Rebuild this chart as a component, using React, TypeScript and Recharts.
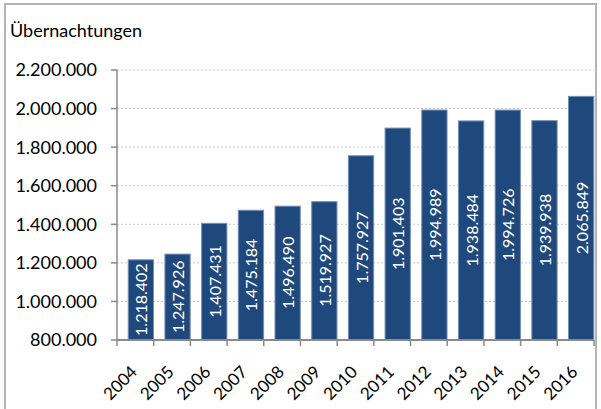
import React from "react";
import { BarChart, Bar, XAxis, YAxis, CartesianGrid, LabelList } from "recharts";

const years = ["2004", "2005", "2006", "2007", "2008", "2009", "2010", "2011", "2012", "2013", "2014", "2015", "2016"];
const nights = [1218402, 1247926, 1407431, 1475184, 1496490, 1519927, 1757927, 1901403, 1994989, 1938484, 1994726, 1939938, 2065849];
const yTicks = [800000, 1000000, 1200000, 1400000, 1600000, 1800000, 2000000, 2200000];
const title = "Übernachtungen";

const data = years.map((y, i) => ({ year: y, value: nights[i] }));

const fmt = (v: number) => String(Math.round(v)).replace(/\B(?=(\d{3})+(?!\d))/g, ".");

const FONT = "Lato, 'Open Sans', sans-serif";
const AXIS = "#8a8a8a";
const TS = 6;
const TM = 2;
const BAR_FRAC = 0.71; // visible bar share of category, right-aligned

const XTick = (props: any) => {
  const { x, y, payload, index, width, visibleTicksCount } = props;
  const band = width / (visibleTicksCount || years.length);
  const ay = y - TS - TM;
  const lx = x - band / 2;
  const rx = x + band / 2;
  const tx = x + 3;
  const ty = ay + 33;
  return (
    <g>
      <line x1={lx} y1={ay} x2={lx} y2={ay + TS} stroke={AXIS} strokeWidth={1.5} />
      {index === (visibleTicksCount || years.length) - 1 && (
        <line x1={rx} y1={ay} x2={rx} y2={ay + TS} stroke={AXIS} strokeWidth={1.5} />
      )}
      <text
        x={tx}
        y={ty}
        textAnchor="end"
        transform={`rotate(-45, ${tx}, ${ty})`}
        fontFamily={FONT}
        fontSize={17}
        fill="#000"
      >
        {payload.value}
      </text>
    </g>
  );
};

const BarShape = (props: any) => {
  const { x, y, width, height } = props;
  const w = width * BAR_FRAC;
  const bx = x + width - w;
  return <rect x={bx + 0.5} y={y + 0.5} width={w - 1} height={Math.max(0, height - 0.5)} fill="#1F497D" stroke="#7390b8" strokeWidth={1} />;
};

const BarLabel = (props: any) => {
  const { x, y, width, height, value } = props;
  const w = width * BAR_FRAC;
  const cx = x + width - w / 2;
  const cy = y + height / 2;
  return (
    <text
      x={cx}
      y={cy}
      textAnchor="middle"
      dominantBaseline="central"
      transform={`rotate(-90, ${cx}, ${cy})`}
      fill="#fff"
      fontFamily={FONT}
      fontSize={16}
    >
      {fmt(Number(value))}
    </text>
  );
};

export default function App() {
  return (
    <div style={{ position: "absolute", left: 0, top: 0, width: 601, height: 409, overflow: "hidden", background: "#fff" }}>
      <div
        style={{
          position: "absolute",
          left: 4,
          top: 3,
          width: 593,
          height: 430,
          border: "2px solid #b4b4b4",
          boxSizing: "border-box",
        }}
      />
      <svg width={601} height={409} style={{ position: "absolute", left: 0, top: 0 }}>
        <text x={10} y={37} fontFamily={FONT} fontSize={18} fill="#000">
          {title}
        </text>
      </svg>
      <div style={{ position: "absolute", left: 0, top: 0 }}>
        <BarChart
          width={601}
          height={409}
          data={data}
          margin={{ top: 70, right: 7, left: 0, bottom: 0 }}
          barGap={0}
          barCategoryGap={0}
        >
          <CartesianGrid vertical={false} stroke="#c8c8c8" strokeDasharray="2 2" />
          <XAxis
            dataKey="year"
            height={69}
            interval={0}
            tickLine={false}
            tickSize={TS}
            tickMargin={TM}
            axisLine={{ stroke: AXIS, strokeWidth: 2 }}
            tick={<XTick />}
          />
          <YAxis
            width={117}
            domain={[800000, 2200000]}
            ticks={yTicks}
            interval={0}
            tickFormatter={fmt}
            tickSize={6}
            tickMargin={14}
            axisLine={{ stroke: AXIS, strokeWidth: 1.5 }}
            tickLine={{ stroke: AXIS, strokeWidth: 1.5 }}
            tick={{ fill: "#000", fontFamily: FONT, fontSize: 18 }}
            allowDataOverflow
          />
          <Bar dataKey="value" shape={<BarShape />} isAnimationActive={false}>
            <LabelList dataKey="value" content={<BarLabel />} />
          </Bar>
        </BarChart>
      </div>
    </div>
  );
}
